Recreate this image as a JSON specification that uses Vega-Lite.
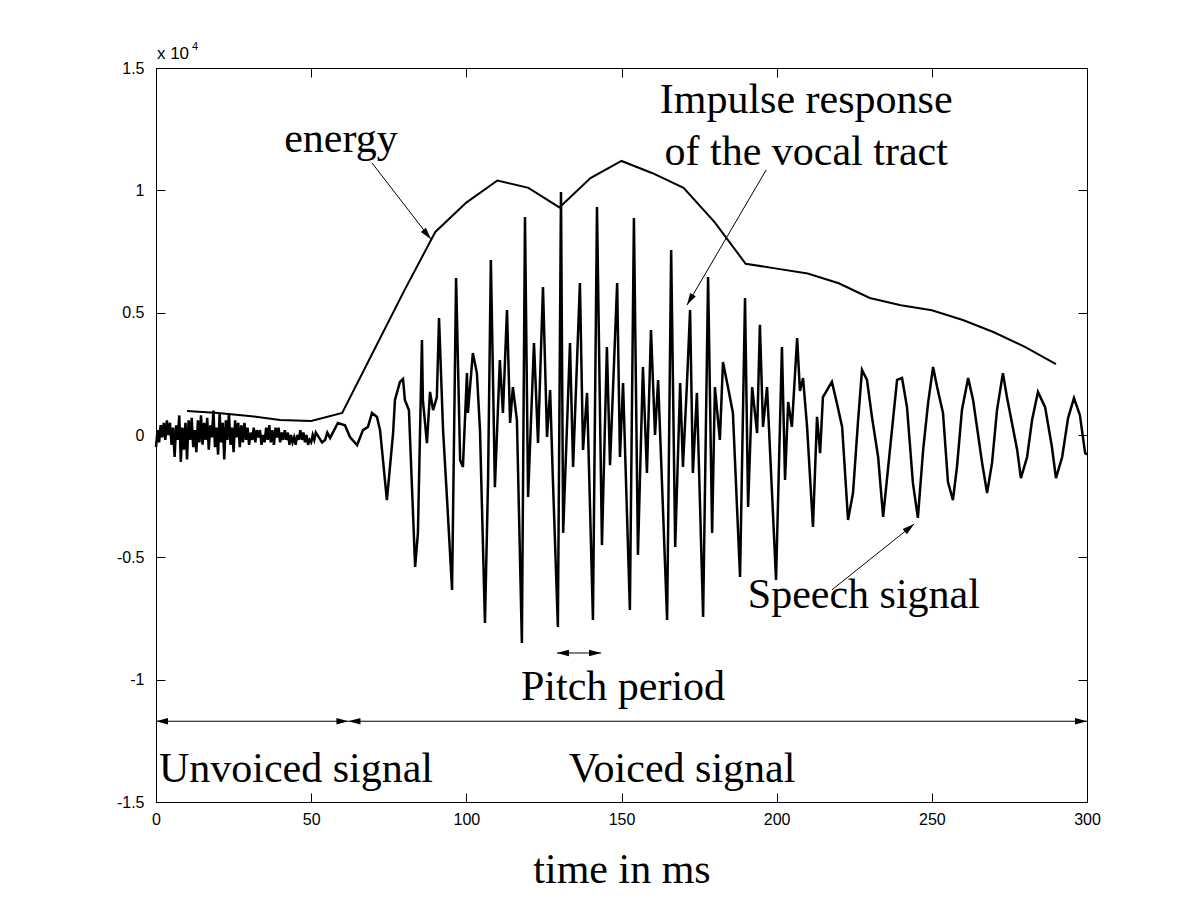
{
  "$schema": "https://vega.github.io/schema/vega-lite/v6.json",
  "width": 931,
  "height": 734,
  "autosize": {"type": "none"},
  "padding": {"left": 156, "top": 68, "right": 113, "bottom": 98},
  "background": "white",
  "config": {
    "view": {"stroke": "black", "strokeWidth": 1},
    "axis": {"grid": false, "domainColor": "black", "tickColor": "black", "labelColor": "black", "titleColor": "black", "labelFont": "Liberation Sans", "labelFontSize": 16, "tickWidth": 1, "domainWidth": 1, "labelFlush": false}
  },
  "datasets": {
    "signal": [
      {"t":0,"v":-0.05},{"t":0.5,"v":0.02},{"t":1.0,"v":-0.03},{"t":1.5,"v":0.04},{"t":2.0,"v":-0.01},{"t":2.5,"v":0.05},{"t":3.0,"v":-0.02},{"t":3.5,"v":0.06},{"t":4.0,"v":0.0},{"t":4.5,"v":0.05},
      {"t":5.0,"v":-0.04},{"t":5.5,"v":0.03},{"t":6.0,"v":-0.09},{"t":6.5,"v":0.04},{"t":7.0,"v":-0.02},{"t":7.5,"v":0.08},{"t":8.0,"v":-0.11},{"t":8.5,"v":0.03},{"t":9.0,"v":-0.06},{"t":9.5,"v":0.05},
      {"t":10.0,"v":-0.1},{"t":10.5,"v":0.06},{"t":11.0,"v":-0.02},{"t":11.5,"v":0.07},{"t":12.0,"v":-0.05},{"t":12.5,"v":0.02},{"t":13.0,"v":-0.07},{"t":13.5,"v":0.06},{"t":14.0,"v":-0.03},{"t":14.5,"v":0.08},
      {"t":15.0,"v":-0.04},{"t":15.5,"v":0.05},{"t":16.0,"v":-0.02},{"t":16.5,"v":0.07},{"t":17.0,"v":-0.06},{"t":17.5,"v":0.04},{"t":18.0,"v":-0.01},{"t":18.5,"v":0.1},{"t":19.0,"v":-0.05},{"t":19.5,"v":0.03},
      {"t":20.0,"v":-0.08},{"t":20.5,"v":0.09},{"t":21.0,"v":-0.03},{"t":21.5,"v":0.05},{"t":22.0,"v":-0.1},{"t":22.5,"v":0.06},{"t":23.0,"v":-0.02},{"t":23.5,"v":0.09},{"t":24.0,"v":-0.04},{"t":24.5,"v":0.03},
      {"t":25.0,"v":-0.07},{"t":25.5,"v":0.06},{"t":26.0,"v":-0.01},{"t":26.5,"v":0.05},{"t":27.0,"v":-0.05},{"t":27.5,"v":0.04},{"t":28.0,"v":-0.03},{"t":28.5,"v":0.05},{"t":29.0,"v":-0.02},{"t":29.5,"v":0.03},
      {"t":30.0,"v":-0.04},{"t":30.5,"v":0.01},{"t":31.0,"v":-0.02},{"t":31.5,"v":0.03},{"t":32.0,"v":-0.03},{"t":32.5,"v":0.02},{"t":33.0,"v":-0.01},{"t":33.5,"v":0.02},{"t":34.0,"v":-0.04},{"t":34.5,"v":0.0},
      {"t":35.0,"v":-0.03},{"t":35.5,"v":0.03},{"t":36.0,"v":-0.02},{"t":36.5,"v":0.04},{"t":37.0,"v":-0.03},{"t":37.5,"v":0.02},{"t":38.0,"v":-0.04},{"t":38.5,"v":0.03},{"t":39.0,"v":-0.01},{"t":39.5,"v":0.03},
      {"t":40.0,"v":-0.03},{"t":40.5,"v":0.01},{"t":41.0,"v":-0.02},{"t":41.5,"v":0.02},{"t":42.0,"v":-0.02},{"t":42.5,"v":0.01},{"t":43.0,"v":-0.04},{"t":43.5,"v":0.0},{"t":44.0,"v":-0.03},{"t":44.5,"v":-0.01},
      {"t":45.0,"v":-0.04},{"t":45.5,"v":0.0},{"t":46.0,"v":-0.02},{"t":46.5,"v":0.02},{"t":47.0,"v":-0.02},{"t":47.5,"v":0.01},{"t":48.0,"v":-0.03},{"t":48.5,"v":0.0},{"t":49.0,"v":-0.04},{"t":49.5,"v":-0.02},
      {"t":50.0,"v":-0.03},{"t":50.5,"v":0.0},{"t":51.0,"v":-0.02},{"t":51.5,"v":0.01},{"t":52.0,"v":0.0},{"t":52.5,"v":-0.01},{"t":53.5,"v":-0.03},{"t":54.5,"v":-0.02},{"t":55.2,"v":0.01},
      {"t":56.1,"v":-0.012},{"t":58.6,"v":0.049},{"t":60.9,"v":0.04},{"t":62.5,"v":-0.008},{"t":64.8,"v":-0.041},{"t":66.7,"v":0.02},{"t":68.3,"v":0.033},{"t":69.6,"v":0.09},{"t":71.2,"v":0.074},{"t":72.2,"v":0.02},
      {"t":74.4,"v":-0.266},{"t":76.4,"v":0.008},{"t":77.0,"v":0.143},{"t":78.6,"v":0.217},{"t":79.6,"v":0.229},{"t":80.2,"v":0.143},{"t":81.5,"v":0.102},{"t":83.5,"v":-0.539},{"t":84.4,"v":-0.40},{"t":85.7,"v":0.388},
      {"t":86.0,"v":0.143},{"t":87.3,"v":-0.033},{"t":88.3,"v":0.176},{"t":89.3,"v":0.102},{"t":90.5,"v":0.155},{"t":91.2,"v":0.478},{"t":92.5,"v":0.02},{"t":93.8,"v":-0.266},{"t":95.4,"v":-0.633},{"t":96.7,"v":0.642},
      {"t":98.0,"v":-0.102},{"t":98.9,"v":-0.131},{"t":100.2,"v":0.253},{"t":100.5,"v":0.09},{"t":102.1,"v":0.335},{"t":103.4,"v":0.253},{"t":104.4,"v":0.02},{"t":106.0,"v":-0.768},{"t":107.0,"v":-0.184},{"t":107.9,"v":0.715},
      {"t":108.6,"v":0.225},{"t":109.2,"v":-0.213},{"t":110.8,"v":0.306},{"t":111.8,"v":0.09},{"t":113.1,"v":0.511},{"t":114.1,"v":0.049},{"t":115.0,"v":0.196},{"t":116.3,"v":0.061},{"t":117.9,"v":-0.85},{"t":118.9,"v":0.891},
      {"t":119.9,"v":-0.253},{"t":121.8,"v":0.376},{"t":123.1,"v":-0.033},{"t":124.7,"v":0.605},{"t":126.0,"v":-0.008},{"t":127.0,"v":0.184},{"t":127.9,"v":-0.184},{"t":129.5,"v":-0.785},{"t":130.5,"v":0.993},{"t":131.2,"v":-0.40},
      {"t":133.4,"v":0.376},{"t":134.4,"v":-0.131},{"t":136.6,"v":0.621},{"t":137.6,"v":-0.061},{"t":138.9,"v":0.172},{"t":140.8,"v":-0.756},{"t":142.1,"v":0.932},{"t":143.7,"v":-0.45},{"t":145.3,"v":0.36},{"t":146.3,"v":-0.123},
      {"t":148.6,"v":0.621},{"t":149.5,"v":-0.09},{"t":150.5,"v":0.212},{"t":152.7,"v":-0.715},{"t":154.0,"v":0.887},{"t":155.3,"v":-0.49},{"t":156.9,"v":0.278},{"t":158.2,"v":-0.155},{"t":159.5,"v":0.429},{"t":160.8,"v":0.0},
      {"t":161.8,"v":0.225},{"t":164.7,"v":-0.756},{"t":166.0,"v":0.756},{"t":167.3,"v":-0.458},{"t":168.9,"v":0.212},{"t":169.8,"v":-0.131},{"t":171.1,"v":0.212},{"t":172.1,"v":0.511},{"t":173.0,"v":-0.155},{"t":174.3,"v":0.172},
      {"t":176.3,"v":-0.744},{"t":177.9,"v":0.646},{"t":179.2,"v":-0.40},{"t":180.1,"v":0.196},{"t":181.7,"v":-0.02},{"t":182.7,"v":0.298},{"t":184.3,"v":0.196},{"t":185.9,"v":0.09},{"t":188.2,"v":-0.58},{"t":189.8,"v":0.56},
      {"t":190.8,"v":-0.294},{"t":192.1,"v":0.196},{"t":193.7,"v":0.008},{"t":194.6,"v":0.45},{"t":195.6,"v":0.033},{"t":196.9,"v":0.196},{"t":198.5,"v":-0.237},{"t":199.8,"v":-0.593},{"t":201.7,"v":0.36},{"t":202.7,"v":-0.184},
      {"t":203.7,"v":0.135},{"t":204.9,"v":0.033},{"t":206.6,"v":0.396},{"t":207.5,"v":0.18},{"t":208.5,"v":0.233},{"t":209.8,"v":0.033},{"t":211.7,"v":-0.376},{"t":213.0,"v":0.074},{"t":214.0,"v":-0.074},{"t":214.9,"v":0.155},
      {"t":217.8,"v":0.217},{"t":219.4,"v":0.131},{"t":221.1,"v":0.033},{"t":223.0,"v":-0.347},{"t":224.6,"v":-0.237},{"t":226.2,"v":0.053},{"t":227.5,"v":0.266},{"t":229.1,"v":0.225},{"t":230.7,"v":0.074},{"t":232.7,"v":-0.09},
      {"t":234.3,"v":-0.335},{"t":236.5,"v":-0.061},{"t":238.8,"v":0.225},{"t":240.4,"v":0.233},{"t":242.0,"v":0.114},{"t":243.9,"v":-0.196},{"t":245.5,"v":-0.339},{"t":247.2,"v":-0.061},{"t":248.8,"v":0.131},{"t":250.4,"v":0.278},
      {"t":251.7,"v":0.196},{"t":253.6,"v":0.09},{"t":255.2,"v":-0.192},{"t":256.8,"v":-0.266},{"t":258.1,"v":-0.131},{"t":259.7,"v":0.102},{"t":261.7,"v":0.233},{"t":263.3,"v":0.143},{"t":266.2,"v":-0.114},{"t":267.8,"v":-0.237},
      {"t":269.4,"v":-0.114},{"t":271.0,"v":0.102},{"t":272.9,"v":0.253},{"t":274.2,"v":0.155},{"t":277.5,"v":-0.061},{"t":278.7,"v":-0.176},{"t":280.7,"v":-0.09},{"t":282.3,"v":0.061},{"t":284.2,"v":0.176},{"t":286.5,"v":0.114},
      {"t":288.7,"v":-0.049},{"t":290.0,"v":-0.176},{"t":292.0,"v":-0.09},{"t":293.9,"v":0.069},{"t":295.8,"v":0.151},{"t":297.7,"v":0.082},{"t":299.4,"v":-0.074},{"t":300,"v":-0.08}
    ],
    "energy": [
      {"t":10,"v":0.098},{"t":20,"v":0.09},{"t":30,"v":0.078},{"t":40,"v":0.061},{"t":50,"v":0.057},{"t":60,"v":0.09},{"t":70,"v":0.34},{"t":80,"v":0.59},{"t":90,"v":0.83},{"t":100,"v":0.95},
      {"t":110,"v":1.04},{"t":120,"v":1.01},{"t":130,"v":0.93},{"t":140,"v":1.05},{"t":150,"v":1.12},{"t":160,"v":1.07},{"t":170,"v":1.01},{"t":180,"v":0.87},{"t":190,"v":0.70},{"t":200,"v":0.68},
      {"t":210,"v":0.66},{"t":220,"v":0.62},{"t":230,"v":0.56},{"t":240,"v":0.53},{"t":250,"v":0.51},{"t":260,"v":0.47},{"t":270,"v":0.42},{"t":280,"v":0.36},{"t":290,"v":0.29}
    ],
    "labels": [
      {"t":59.6,"v":1.157,"text":"energy"},
      {"t":209.5,"v":1.316,"text":"Impulse response"},
      {"t":209.5,"v":1.103,"text":"of the vocal tract"},
      {"t":228.1,"v":-0.707,"text":"Speech signal"},
      {"t":150.5,"v":-1.083,"text":"Pitch period"},
      {"t":45.1,"v":-1.418,"text":"Unvoiced signal"},
      {"t":169.5,"v":-1.418,"text":"Voiced signal"}
    ],
    "arrows": [
      {"t1":0,"v1":-1.17,"t2":62,"v2":-1.17},
      {"t1":62,"v1":-1.17,"t2":300,"v2":-1.17},
      {"t1":129.2,"v1":-0.891,"t2":143.4,"v2":-0.891},
      {"t1":69.6,"v1":1.112,"t2":88.6,"v2":0.80},
      {"t1":196.6,"v1":1.083,"t2":171.1,"v2":0.531},
      {"t1":217.8,"v1":-0.633,"t2":244.3,"v2":-0.364}
    ],
    "headsRight": [{"t":62,"v":-1.17},{"t":300,"v":-1.17},{"t":143.4,"v":-0.891}],
    "headsLeft": [{"t":0,"v":-1.17},{"t":62,"v":-1.17},{"t":129.2,"v":-0.891}],
    "headEnergy": [{"t":88.6,"v":0.80}],
    "headImpulse": [{"t":171.1,"v":0.531}],
    "headSpeech": [{"t":244.3,"v":-0.364}],
    "expBase": [{"t":0.3,"v":1.537,"text":"x 10"}],
    "expPow": [{"t":11.6,"v":1.573,"text":"4"}]
  },
  "resolve": {"axis": {"x": "independent", "y": "independent"}},
  "layer": [
    {
      "data": {"name": "signal"},
      "mark": {"type": "line", "color": "black", "strokeWidth": 2.5, "interpolate": "linear"},
      "encoding": {
        "x": {"field": "t", "type": "quantitative", "scale": {"domain": [0, 300], "nice": false, "zero": false},
              "axis": {"orient": "bottom", "values": [0,50,100,150,200,250,300], "tickSize": -9, "labelPadding": 18, "format": "d",
                       "title": "time in ms", "titleFont": "Liberation Serif", "titleFontSize": 42, "titleFontWeight": "normal", "titlePadding": 22}},
        "y": {"field": "v", "type": "quantitative", "scale": {"domain": [-1.5, 1.5], "nice": false, "zero": false},
              "axis": {"orient": "left", "values": [-1.5,-1,-0.5,0,0.5,1,1.5], "tickSize": -9, "labelPadding": 21, "labelExpr": "'' + datum.value", "title": null}}
      }
    },
    {
      "data": {"name": "energy"},
      "mark": {"type": "line", "color": "black", "strokeWidth": 2},
      "encoding": {
        "x": {"field": "t", "type": "quantitative", "scale": {"domain": [0, 300], "nice": false, "zero": false},
              "axis": {"orient": "top", "values": [0,50,100,150,200,250,300], "tickSize": -9, "labels": false, "title": null}},
        "y": {"field": "v", "type": "quantitative", "scale": {"domain": [-1.5, 1.5], "nice": false, "zero": false},
              "axis": {"orient": "right", "values": [-1.5,-1,-0.5,0,0.5,1,1.5], "tickSize": -9, "labels": false, "title": null}}
      }
    },
    {
      "data": {"name": "arrows"},
      "mark": {"type": "rule", "color": "black", "strokeWidth": 1},
      "encoding": {
        "x": {"field": "t1", "type": "quantitative", "scale": {"domain": [0, 300], "nice": false, "zero": false}, "axis": null},
        "x2": {"field": "t2"},
        "y": {"field": "v1", "type": "quantitative", "scale": {"domain": [-1.5, 1.5], "nice": false, "zero": false}, "axis": null},
        "y2": {"field": "v2"}
      }
    },
    {
      "data": {"name": "headsRight"},
      "mark": {"type": "point", "shape": "M0,0L-2,-0.55L-2,0.55Z", "size": 144, "filled": true, "color": "black", "opacity": 1, "angle": 0},
      "encoding": {
        "x": {"field": "t", "type": "quantitative", "scale": {"domain": [0, 300], "nice": false, "zero": false}, "axis": null},
        "y": {"field": "v", "type": "quantitative", "scale": {"domain": [-1.5, 1.5], "nice": false, "zero": false}, "axis": null}
      }
    },
    {
      "data": {"name": "headsLeft"},
      "mark": {"type": "point", "shape": "M0,0L-2,-0.55L-2,0.55Z", "size": 144, "filled": true, "color": "black", "opacity": 1, "angle": 180},
      "encoding": {
        "x": {"field": "t", "type": "quantitative", "scale": {"domain": [0, 300], "nice": false, "zero": false}, "axis": null},
        "y": {"field": "v", "type": "quantitative", "scale": {"domain": [-1.5, 1.5], "nice": false, "zero": false}, "axis": null}
      }
    },
    {
      "data": {"name": "headEnergy"},
      "mark": {"type": "point", "shape": "M0,0L-2,-0.55L-2,0.55Z", "size": 144, "filled": true, "color": "black", "opacity": 1, "angle": 51},
      "encoding": {
        "x": {"field": "t", "type": "quantitative", "scale": {"domain": [0, 300], "nice": false, "zero": false}, "axis": null},
        "y": {"field": "v", "type": "quantitative", "scale": {"domain": [-1.5, 1.5], "nice": false, "zero": false}, "axis": null}
      }
    },
    {
      "data": {"name": "headImpulse"},
      "mark": {"type": "point", "shape": "M0,0L-2,-0.55L-2,0.55Z", "size": 144, "filled": true, "color": "black", "opacity": 1, "angle": 120},
      "encoding": {
        "x": {"field": "t", "type": "quantitative", "scale": {"domain": [0, 300], "nice": false, "zero": false}, "axis": null},
        "y": {"field": "v", "type": "quantitative", "scale": {"domain": [-1.5, 1.5], "nice": false, "zero": false}, "axis": null}
      }
    },
    {
      "data": {"name": "headSpeech"},
      "mark": {"type": "point", "shape": "M0,0L-2,-0.55L-2,0.55Z", "size": 144, "filled": true, "color": "black", "opacity": 1, "angle": 321},
      "encoding": {
        "x": {"field": "t", "type": "quantitative", "scale": {"domain": [0, 300], "nice": false, "zero": false}, "axis": null},
        "y": {"field": "v", "type": "quantitative", "scale": {"domain": [-1.5, 1.5], "nice": false, "zero": false}, "axis": null}
      }
    },
    {
      "data": {"name": "labels"},
      "mark": {"type": "text", "font": "Liberation Serif", "fontSize": 42, "color": "black", "align": "center", "baseline": "alphabetic"},
      "encoding": {
        "x": {"field": "t", "type": "quantitative", "scale": {"domain": [0, 300], "nice": false, "zero": false}, "axis": null},
        "y": {"field": "v", "type": "quantitative", "scale": {"domain": [-1.5, 1.5], "nice": false, "zero": false}, "axis": null},
        "text": {"field": "text"}
      }
    },
    {
      "data": {"name": "expBase"},
      "mark": {"type": "text", "font": "Liberation Sans", "fontSize": 17, "color": "black", "align": "left", "baseline": "alphabetic"},
      "encoding": {
        "x": {"field": "t", "type": "quantitative", "scale": {"domain": [0, 300], "nice": false, "zero": false}, "axis": null},
        "y": {"field": "v", "type": "quantitative", "scale": {"domain": [-1.5, 1.5], "nice": false, "zero": false}, "axis": null},
        "text": {"field": "text"}
      }
    },
    {
      "data": {"name": "expPow"},
      "mark": {"type": "text", "font": "Liberation Sans", "fontSize": 11, "color": "black", "align": "left", "baseline": "alphabetic"},
      "encoding": {
        "x": {"field": "t", "type": "quantitative", "scale": {"domain": [0, 300], "nice": false, "zero": false}, "axis": null},
        "y": {"field": "v", "type": "quantitative", "scale": {"domain": [-1.5, 1.5], "nice": false, "zero": false}, "axis": null},
        "text": {"field": "text"}
      }
    }
  ]
}
